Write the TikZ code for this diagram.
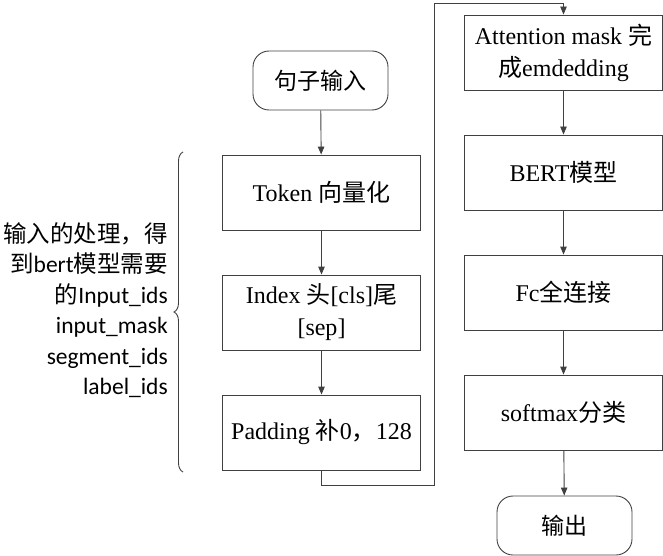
\documentclass[tikz,border=0pt]{standalone}
\usepackage{fontspec}
\setmainfont{Liberation Serif}
\newfontfamily\cjk{Noto Sans CJK SC}
\newfontfamily\carl{Carlito}
\usetikzlibrary{arrows.meta,decorations.pathreplacing}
\begin{document}
\begin{tikzpicture}[x=1pt,y=-1pt,
  line/.style={draw=black!75,line width=0.9pt},
  arr/.style={line,-{Triangle[length=8pt,width=6.5pt]}},
  procbox/.style={line,rectangle,minimum width=198pt,minimum height=75pt,inner sep=2pt,align=center,font=\fontsize{24}{32}\selectfont,text=black},
  termbox/.style={line,rectangle,rounded corners=16pt,minimum width=135pt,minimum height=59pt,inner sep=2pt,align=center,font=\fontsize{23}{32}\selectfont\cjk,text=black}]
\useasboundingbox (0,0) rectangle (663,556);
\node[termbox] (start) at (320.5,80.5) {句子输入};
\node[procbox] (token) at (321.5,192.5) {Token {\cjk 向量化}};
\node[procbox] (index) at (321.5,312.5) {Index {\cjk 头}[cls]{\cjk 尾}\\\relax[sep]};
\node[procbox] (pad) at (321.5,432.5) {Padding {\cjk 补}0{\cjk ，}128};
\node[procbox] (att) at (563.5,52.5) {Attention mask {\cjk 完}\\{\cjk 成}emdedding};
\node[procbox] (bert) at (563.5,172.5) {BERT{\cjk 模型}};
\node[procbox] (fc) at (563.5,292.5) {Fc{\cjk 全连接}};
\node[procbox] (soft) at (563.5,412.5) {softmax{\cjk 分类}};
\node[termbox] (out) at (564.5,525.5) {输出};
\coordinate (r1) at (321.5,485);
\coordinate (r2) at (434,485);
\coordinate (r3) at (434,3);
\coordinate (r4) at (563.5,3);
\draw[arr] (start) -- (token);
\draw[arr] (token) -- (index);
\draw[arr] (index) -- (pad);
\draw[arr] (pad.south) -- (r1) -- (r2) -- (r3) -- (r4) -- (att.north);
\draw[arr] (att) -- (bert);
\draw[arr] (bert) -- (fc);
\draw[arr] (fc) -- (soft);
\draw[arr] (soft) -- (out);
\coordinate (b1) at (183,472);
\coordinate (b2) at (183,152);
\draw[line,decorate,decoration={brace,amplitude=9pt}] (b1) -- (b2);
\node[anchor=east,align=right,inner sep=0pt,font=\fontsize{23.5}{30.5}\selectfont\carl] (lbl) at (168,310)
 {{\cjk 输入的处理，得}\\{\cjk 到}bert{\cjk 模型需要}\\{\cjk 的}Input\_ids\\input\_mask\\segment\_ids\\label\_ids};
\end{tikzpicture}
\end{document}
